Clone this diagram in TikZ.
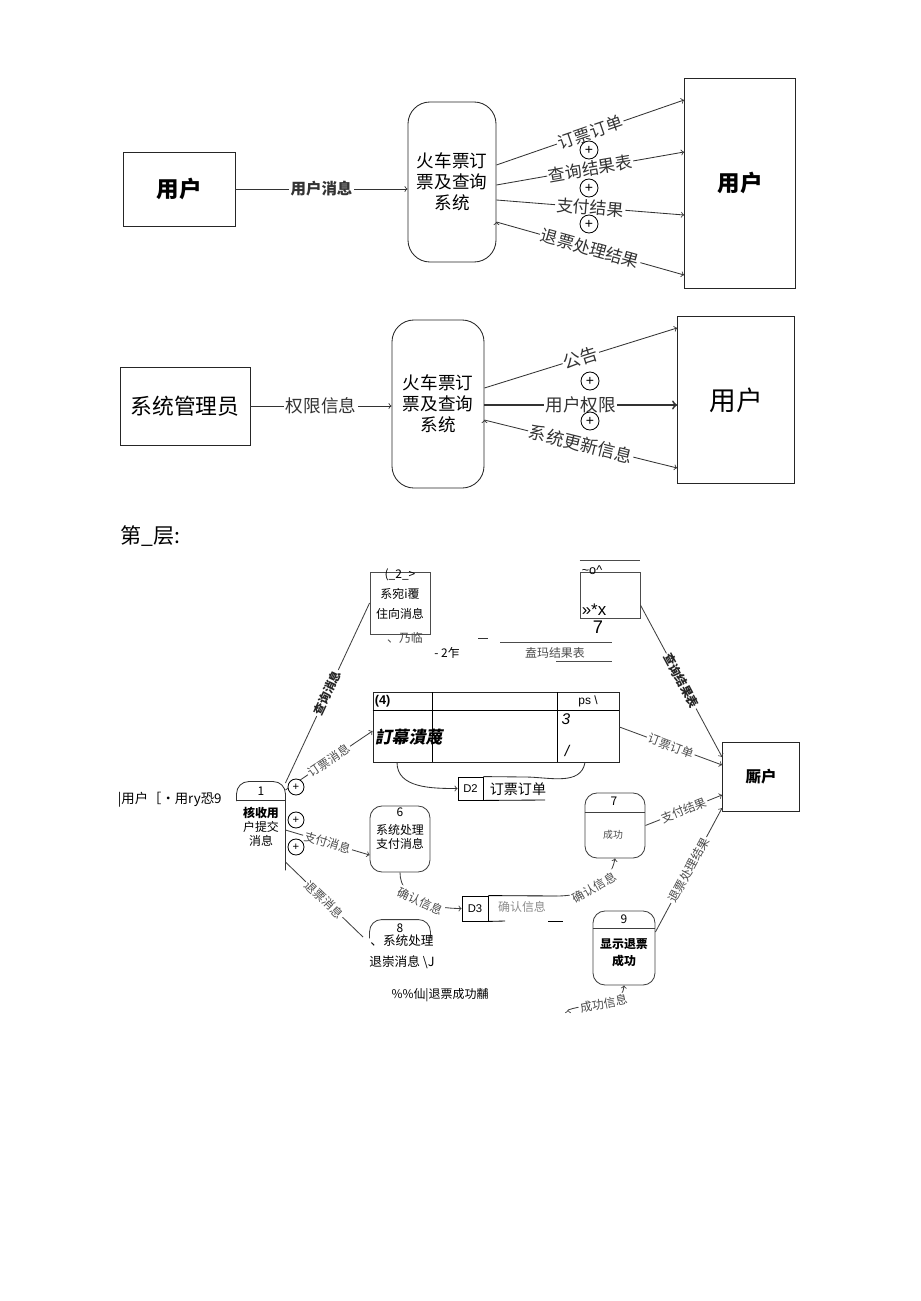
\documentclass[tikz,border=0pt]{standalone}
\usepackage{fontspec}
\setmainfont{Liberation Sans}
\newfontfamily\cjk{Noto Sans CJK SC}
\newfontfamily\cjksl[FakeSlant=0.2]{Noto Sans CJK SC}
\usetikzlibrary{positioning, arrows}

\begin{document}
\begin{tikzpicture}[x=0.025cm, y=-0.025cm, font=\cjk, line width=0.6pt,
    ent/.style={draw=black!85, rectangle, inner sep=0pt},
    sys/.style={draw=black!85, rectangle, rounded corners=0.55cm, align=center, inner sep=0pt, font=\cjk\fontsize{12.5}{15}\selectfont},
    lbl/.style={fill=white, inner sep=1pt, sloped, text=black!80, font=\cjk\fontsize{12}{12}\selectfont},
    plus/.style={draw, fill=white, circle, inner sep=0pt, minimum size=0.45cm, font=\rmfamily\fontsize{10}{10}\selectfont},
    proc/.style={draw=black!75, rounded corners=0.3cm, inner sep=0pt},
    sm/.style={font=\cjk\fontsize{8.5}{10}\selectfont, align=center, inner sep=1pt},
    slbl/.style={fill=white, inner sep=1pt, sloped, text=black!70, font=\cjk\fontsize{8.5}{8.5}\selectfont}]

    \useasboundingbox (0,0) rectangle (920,1301);

    % context diagram: user
    \node[ent, minimum width=2.8cm, minimum height=1.85cm, font=\cjk\bfseries\fontsize{16}{16}\selectfont] (usr1) at (179,189) {用户};
    \node[sys, minimum width=2.2cm, minimum height=4cm] (sys1) at (452,182) {火车票订\\票及查询\\系统};
    \node[ent, minimum width=2.775cm, minimum height=5.25cm, font=\cjk\bfseries\fontsize{16}{16}\selectfont] (usr2) at (740,183) {用户};

    \path[->, draw=black!80]
        (usr1.east) edge node[lbl, font=\cjk\bfseries\fontsize{11}{11}\selectfont] {用户消息} (usr1.east -| sys1.west)
        (sys1.east |- 0,165) edge node[lbl] {订票订单} (usr2.west |- 0,100)
        (sys1.east |- 0,185) edge node[lbl] {查询结果表} (usr2.west |- 0,152)
        (sys1.east |- 0,200) edge node[lbl] {支付结果} (usr2.west |- 0,215)
        (sys1.east |- 0,222) edge node[lbl] {退票处理结果} (usr2.west |- 0,275);

    \node[plus] (c1) at (589,150) {+};
    \node[plus] (c2) at (589,188) {+};
    \node[plus] (c3) at (589,224) {+};

    % context diagram: administrator
    \node[ent, minimum width=3.25cm, minimum height=1.95cm, font=\cjk\fontsize{15.5}{15.5}\selectfont] (adm) at (185,406) {系统管理员};
    \node[sys, minimum width=2.3cm, minimum height=4.2cm] (sys2) at (438,404) {火车票订\\票及查询\\系统};
    \node[ent, minimum width=2.925cm, minimum height=4.175cm, font=\cjk\fontsize{19}{19}\selectfont] (usr3) at (736,400) {用户};

    \path[->, draw=black!80]
        (adm.east) edge node[lbl, font=\cjk\fontsize{12.5}{12.5}\selectfont] {权限信息} (adm.east -| sys2.west)
        (sys2.east |- 0,388) edge node[lbl, font=\cjk\fontsize{12.5}{12.5}\selectfont] {公告} (usr3.west |- 0,328)
        (sys2.east |- 0,405) edge[line width=1.3pt] node[lbl, font=\cjk\fontsize{12.5}{12.5}\selectfont] {用户权限} (usr3.west |- 0,405)
        (sys2.east |- 0,420) edge node[lbl, font=\cjk\fontsize{12.5}{12.5}\selectfont] {系统更新信息} (usr3.west |- 0,468);

    \node[plus] (c4) at (590,381) {+};
    \node[plus] (c5) at (590,421) {+};

    % level one
    \node[anchor=west, inner sep=0pt, font=\cjk\fontsize{15}{15}\selectfont] (ttl) at (120,536) {第\_层:};

    \node[sm, anchor=west, font=\cjk\fontsize{9.5}{9.5}\selectfont] (ext) at (116,800) {|用户［•用ry恐9};

    % process 1
    \node[minimum width=1.2cm, minimum height=2.2cm, inner sep=0pt] (pr1) at (261,826) {};
    \draw[black!80, rounded corners=0.3cm] (pr1.west |- 0,801) -- (pr1.north west) -- (pr1.north east) -- (pr1.south east);
    \draw[black!80] (pr1.west |- 0,800) -- (pr1.east |- 0,800);
    \node[sm] (n1) at (261,791) {1};
    \node[sm] (t1) at (261,827) {\textbf{核收用}\\户提交\\消息};

    % box 2
    \node[ent, draw=black!70, minimum width=1.5cm, minimum height=1.55cm] (bx2) at (400,603) {};
    \node[sm, font=\cjk\fontsize{8.5}{14}\selectfont] (t2) at (400,594) {(\_2\_>\\系宛i覆\\住向消息};

    \node[sm, text=black!70] (f1) at (405,638) {、乃临};
    \node[sm] (f2) at (447,653) {- 2乍};
    \node[sm, text=black!70] (f3) at (555,653) {盍玛结果表};
    \node[font=\rmfamily\fontsize{13}{13}\selectfont] (f4) at (598,627) {7};
    \draw[black!80] (478,638) -- (488,638);
    \draw[black!70] (500,642) -- (612,642);
    \draw[black!70] (556,661) -- (612,661);

    % box 3
    \node[ent, draw=black!70, minimum width=1.5cm, minimum height=1.15cm] (bx3) at (610,595) {};
    \draw[black!70] (bx3.north west |- 0,560) -- (bx3.north east |- 0,560);
    \node[font=\rmfamily\fontsize{9}{9}\selectfont, inner sep=0pt] (f5) at (592,570) {\textasciitilde o\textasciicircum};
    \node[anchor=south west, inner sep=1pt, font=\rmfamily\fontsize{12}{12}\selectfont] (f6) at (580,617) {»*x};

    % table 4
    \node[ent, minimum width=6.15cm, minimum height=1.75cm] (tbl) at (496,727) {};
    \draw (tbl.west |- 0,710) -- (tbl.east |- 0,710);
    \draw (432,692) -- (432,762);
    \draw (557,692) -- (557,762);
    \node[anchor=west, inner sep=1pt, font=\rmfamily\bfseries\fontsize{9}{9}\selectfont] (t4) at (373,701) {(4)};
    \node[font=\rmfamily\fontsize{8.5}{8.5}\selectfont] (t5) at (588,701) {ps \textbackslash};
    \node[anchor=west, inner sep=1pt, font=\cjksl\bfseries\fontsize{12}{12}\selectfont] (t6) at (373,737) {訂幕潰蔑};
    \node[font=\rmfamily\itshape\fontsize{11}{11}\selectfont] (t7) at (566,719) {3};
    \node[font=\rmfamily\itshape\fontsize{11}{11}\selectfont] (t8) at (567,751) {/};

    % store D2
    \node[draw, minimum width=0.625cm, minimum height=0.575cm, inner sep=0pt, font=\rmfamily\fontsize{8}{8}\selectfont] (d2) at (470.5,788.5) {D2};
    \node[anchor=west, inner sep=1pt, font=\cjk\fontsize{10}{10}\selectfont] (d2t) at (488,789) {订票订单};
    \draw (d2.south east) -- (545,800);
    \draw[->, black!80] (tbl.south -| 397,0) to[out=-90, in=180] (d2.west);
    \draw[black!80] (d2.north east) -- (525,777) to[out=0, in=-100] (tbl.south -| 585,0);

    % user
    \node[ent, minimum width=1.925cm, minimum height=1.725cm, font=\cjk\bfseries\fontsize{11}{11}\selectfont] (usr4) at (761,777) {厮户};

    % processes 6, 7, 8, 9
    \node[proc, minimum width=1.5cm, minimum height=1.65cm] (pr6) at (400,839) {};
    \node[sm] (n6) at (400,812) {6};
    \node[sm] (t6b) at (400,837) {系统处理\\支付消息};

    \node[proc, minimum width=1.5cm, minimum height=1.625cm] (pr7) at (615,825.5) {};
    \draw[black!75] (pr7.west |- 0,812) -- (pr7.east |- 0,812);
    \node[sm] (n7) at (614,801) {7};
    \node[sm, text=black!70, font=\cjk\fontsize{7}{7}\selectfont] (t7b) at (613,835) {成功};

    \node[minimum width=1.5cm, minimum height=0.45cm, inner sep=0pt] (pr8) at (400,929) {};
    \draw[black!75, rounded corners=0.3cm] (pr8.south west) -- (pr8.north west) -- (pr8.north east) -- (pr8.south east);
    \node[sm] (n8) at (400,928) {8};
    \node[sm, font=\cjk\fontsize{9}{15}\selectfont] (t8b) at (402,952) {、系统处理\\退崇消息 \textbackslash J};
    \coordinate (e8) at (363,937);

    \node[proc, minimum width=1.55cm, minimum height=1.85cm] (pr9) at (624,948) {};
    \draw[black!75] (pr9.west |- 0,928) -- (pr9.east |- 0,928);
    \node[sm] (n9) at (624,919) {9};
    \node[sm, font=\cjk\bfseries\fontsize{8.5}{12}\selectfont] (t9) at (624,953) {显示退票\\成功};

    % store D3
    \node[draw, minimum width=0.65cm, minimum height=0.625cm, inner sep=0pt, font=\rmfamily\fontsize{8}{8}\selectfont] (d3) at (475,908.5) {D3};
    \draw (d3.north east) -- (557,896);
    \draw (d3.south east) -- (505,921);
    \draw (548,921) -- (563,921);
    \node[sm, text=black!45] (d3t) at (522,907) {确认信息};

    \node[sm] (f7) at (440,995) {\%\%仙|退票成功黼};
    \coordinate (s0) at (568,1010);

    \path[->, draw=black!75]
        (pr1.east |- 0,783) edge[-] node[slbl, text=black!85, font=\cjk\bfseries\fontsize{8.5}{8.5}\selectfont] {查询消息} (bx2.west)
        (pr1.east |- 0,790) edge node[slbl] {订票消息} (tbl.west |- 0,731)
        (pr1.east |- 0,830) edge node[slbl] {支付消息} (pr6.west |- 0,855)
        (pr1.east |- 0,862) edge[-] node[slbl] {退票消息} (e8)
        (tbl.east |- 0,727) edge node[slbl] {订票订单} (usr4.west |- 0,765)
        (bx3.east |- 0,605) edge node[slbl, text=black!85, font=\cjk\bfseries\fontsize{8.5}{8.5}\selectfont] {查询结果表} (usr4.west |- 0,757)
        (pr7.east) edge node[slbl] {支付结果} (usr4.west |- 0,795)
        (pr9.east |- 0,932) edge node[slbl] {退票处理结果} (usr4.west |- 0,808)
        (pr6.south) edge[out=-90, in=180] node[slbl] {确认信息} (d3.west)
        (557,896) edge[out=0, in=-100] node[slbl] {确认信息} (pr7.south)
        (s0) edge[out=20, in=-95] node[slbl] {成功信息} (pr9.south);

    \node[plus, minimum size=0.4cm, font=\rmfamily\fontsize{8}{8}\selectfont] (c6) at (296,787) {+};
    \node[plus, minimum size=0.4cm, font=\rmfamily\fontsize{8}{8}\selectfont] (c7) at (296,820) {+};
    \node[plus, minimum size=0.4cm, font=\rmfamily\fontsize{8}{8}\selectfont] (c8) at (296,847) {+};
\end{tikzpicture}
\end{document}
